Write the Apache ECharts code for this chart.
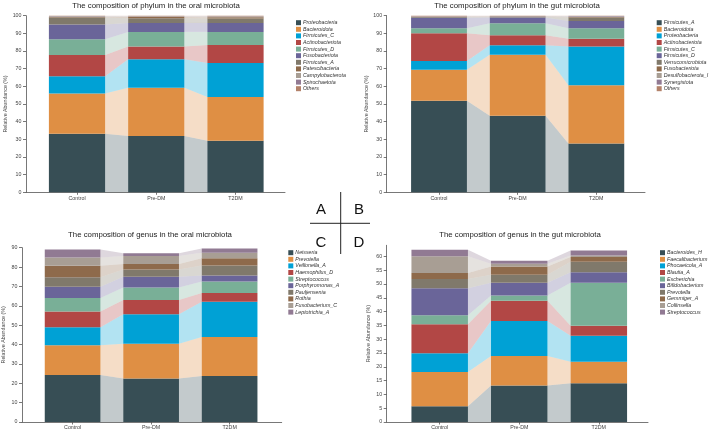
<!DOCTYPE html>
<html>
<head>
<meta charset="utf-8">
<script src="https://cdn.jsdelivr.net/npm/echarts@6/dist/echarts.min.js"></script>
<style>
html,body{margin:0;padding:0;background:#fff;}
#main{width:709px;height:432px;}
</style>
</head>
<body>
<div id="main"></div>
<script>
// groups (x categories)
var groups = ['Control', 'Pre-DM', 'T2DM'];
var palette = ['#374E55', '#DF8F44', '#00A1D5', '#B24745', '#79AF97', '#6A6599', '#80796B', '#8E6A4B', '#A89E94', '#917A93', '#B3826A'];

// A - phylum, oral
var oralPhylumNames = ['Proteobacteria', 'Bacteroidota', 'Firmicutes_C', 'Actinobacteriota', 'Firmicutes_D', 'Fusobacteriota', 'Firmicutes_A', 'Patescibacteria', 'Campylobacterota', 'Spirochaetota', 'Others'];
var oralPhylumControl = [33.2, 22.8, 9.7, 12.0, 8.9, 8.4, 4.0, 0.4, 0.3, 0.15, 0.15];
var oralPhylumPreDM   = [31.9, 27.3, 16.1, 7.2, 8.3, 5.1, 2.7, 0.6, 0.3, 0.2, 0.3];
var oralPhylumT2DM    = [29.2, 24.8, 19.2, 10.2, 7.4, 5.1, 2.5, 0.7, 0.4, 0.2, 0.3];

// B - phylum, gut
var gutPhylumNames = ['Firmicutes_A', 'Bacteroidota', 'Proteobacteria', 'Actinobacteriota', 'Firmicutes_C', 'Firmicutes_D', 'Verrucomicrobiota', 'Fusobacteriota', 'Desulfobacterota_I', 'Synergistota', 'Others'];
var gutPhylumControl = [51.9, 17.5, 4.9, 15.8, 2.8, 6.0, 0.3, 0.2, 0.2, 0.1, 0.3];
var gutPhylumPreDM   = [43.4, 34.5, 5.3, 5.7, 6.8, 3.3, 0.3, 0.2, 0.2, 0.1, 0.2];
var gutPhylumT2DM    = [27.7, 32.9, 21.9, 4.5, 5.9, 4.1, 2.0, 0.3, 0.3, 0.2, 0.2];

// C - genus, oral
var oralGenusNames = ['Neisseria', 'Prevotella', 'Veillonella_A', 'Haemophilus_D', 'Streptococcus', 'Porphyromonas_A', 'Pauljensenia', 'Rothia', 'Fusobacterium_C', 'Leptotrichia_A'];
var oralGenusControl = [24.3, 15.3, 9.3, 8.2, 6.9, 5.9, 4.8, 6.0, 4.3, 4.1];
var oralGenusPreDM   = [22.5, 17.9, 15.2, 7.4, 6.5, 5.5, 3.8, 2.8, 4.1, 1.4];
var oralGenusT2DM    = [23.8, 20.1, 18.2, 4.5, 6.0, 3.0, 5.2, 3.7, 2.9, 2.2];

// D - genus, gut
var gutGenusNames = ['Bacteroides_H', 'Faecalibacterium', 'Phocaeicola_A', 'Blautia_A', 'Escherichia', 'Bifidobacterium', 'Prevotella', 'Gemmiger_A', 'Collinsella', 'Streptococcus'];
var gutGenusControl = [5.7, 12.4, 6.8, 10.5, 3.3, 9.7, 3.4, 2.2, 6.0, 2.4];
var gutGenusPreDM   = [13.2, 10.7, 12.7, 7.3, 1.9, 4.6, 2.9, 3.0, 1.0, 1.1];
var gutGenusT2DM    = [14.0, 7.8, 9.4, 3.7, 15.5, 3.8, 3.8, 1.8, 0.5, 1.8];

var ticks100 = [0, 10, 20, 30, 40, 50, 60, 70, 80, 90, 100];
var ticks90 = [0, 10, 20, 30, 40, 50, 60, 70, 80, 90];
var ticks60 = [0, 5, 10, 15, 20, 25, 30, 35, 40, 45, 50, 55, 60];

var FONT = 'Liberation Sans, Arial, sans-serif';
var BAR_FRAC = 0.71;

var panels = [
	{id:'A', title:'The composition of phylum in the oral microbiota', names:oralPhylumNames,
	 vals:[oralPhylumControl, oralPhylumPreDM, oralPhylumT2DM], ymax:100, ticks:ticks100,
	 grid:{left:26, top:15.7, width:259, height:176.6}, xmin:-0.644, xmax:2.625,
	 titleX:156, titleY:1.5, legendX:296, legendY:20.2, nameGap:18},
	{id:'B', title:'The composition of phylum in the gut microbiota', names:gutPhylumNames,
	 vals:[gutPhylumControl, gutPhylumPreDM, gutPhylumT2DM], ymax:100, ticks:ticks100,
	 grid:{left:386.7, top:15.7, width:258.3, height:176.6}, xmin:-0.665, xmax:2.619,
	 titleX:517, titleY:1.5, legendX:656.7, legendY:20.2, nameGap:16},
	{id:'C', title:'The composition of genus in the oral microbiota', names:oralGenusNames,
	 vals:[oralGenusControl, oralGenusPreDM, oralGenusT2DM], ymax:90, ticks:ticks90,
	 grid:{left:20, top:247.7, width:261.7, height:174.3}, xmin:-0.645, xmax:2.664,
	 titleX:150, titleY:231, legendX:288.3, legendY:250.2, nameGap:16},
	{id:'D', title:'The composition of genus in the gut microbiota', names:gutGenusNames,
	 vals:[gutGenusControl, gutGenusPreDM, gutGenusT2DM], ymax:64, ticks:ticks60,
	 grid:{left:386.7, top:245.3, width:261.3, height:176.7}, xmin:-0.666, xmax:2.618,
	 titleX:520, titleY:231, legendX:660, legendY:250.2, nameGap:16}
];

/*
*堆积：每组累计上下界
*/
function buildStacks(vals){
	var st = [];
	for (var g = 0; g < vals.length; g++) {
		var acc = 0, row = [];
		for (var k = 0; k < vals[g].length; k++) {
			row.push([acc, acc + vals[g][k]]);
			acc += vals[g][k];
		}
		st.push(row);
	}
	return st;
}

function makeRender(stacks, k, color){
	return function(params, api){
		var i = params.dataIndex;
		var hw = api.size([BAR_FRAC, 0])[0] / 2;
		var top = api.coord([i, api.value(2)]);
		var bot = api.coord([i, api.value(1)]);
		var children = [{
			type:'rect',
			shape:{x:top[0] - hw, y:top[1], width:hw * 2, height:bot[1] - top[1]},
			style:{fill:color}
		}];
		if (i < stacks.length - 1) {
			var nTop = api.coord([i + 1, stacks[i + 1][k][1]]);
			var nBot = api.coord([i + 1, stacks[i + 1][k][0]]);
			children.push({
				type:'polygon',
				shape:{points:[[top[0] + hw, top[1]], [nTop[0] - hw, nTop[1]], [nBot[0] - hw, nBot[1]], [bot[0] + hw, bot[1]]]},
				style:{fill:color, opacity:0.3}
			});
		}
		return {type:'group', children:children};
	};
}

var option = {
	animation:false,
	backgroundColor:'#fff',
	title:[], legend:[], grid:[], xAxis:[], yAxis:[], series:[],
	graphic:[
		{type:'line', shape:{x1:310, y1:223.3, x2:370, y2:223.3}, style:{stroke:'#222', lineWidth:1}},
		{type:'line', shape:{x1:340.7, y1:192, x2:340.7, y2:254}, style:{stroke:'#222', lineWidth:1}},
		{type:'text', x:321, y:210, style:{text:'A', font:'15px ' + FONT, fill:'#111', align:'center', verticalAlign:'middle'}},
		{type:'text', x:359, y:210, style:{text:'B', font:'15px ' + FONT, fill:'#111', align:'center', verticalAlign:'middle'}},
		{type:'text', x:321, y:243, style:{text:'C', font:'15px ' + FONT, fill:'#111', align:'center', verticalAlign:'middle'}},
		{type:'text', x:359, y:243, style:{text:'D', font:'15px ' + FONT, fill:'#111', align:'center', verticalAlign:'middle'}}
	]
};

panels.forEach(function(p, pi){
	var stacks = buildStacks(p.vals);
	option.title.push({
		text:p.title, left:p.titleX, top:p.titleY, textAlign:'center', padding:0,
		textStyle:{fontSize:7.8, fontWeight:'normal', color:'#222', fontFamily:FONT}
	});
	option.grid.push({left:p.grid.left, top:p.grid.top, width:p.grid.width, height:p.grid.height});
	option.xAxis.push({
		type:'value', gridIndex:pi, min:p.xmin, max:p.xmax,
		splitLine:{show:false},
		axisLine:{onZero:false, lineStyle:{color:'#555', width:0.8}},
		axisTick:{customValues:[0, 1, 2], length:2.5, lineStyle:{color:'#555', width:0.8}},
		axisLabel:{customValues:[0, 1, 2], formatter:function(v){ return groups[Math.round(v)]; },
			fontSize:5.3, color:'#444', margin:3.5, fontFamily:FONT}
	});
	option.yAxis.push({
		type:'value', gridIndex:pi, min:0, max:p.ymax,
		name:'Relative Abundance (%)', nameLocation:'middle', nameGap:p.nameGap,
		nameTextStyle:{fontSize:5.3, color:'#444', fontFamily:FONT},
		splitLine:{show:false},
		axisLine:{show:true, onZero:false, lineStyle:{color:'#555', width:0.8}},
		axisTick:{show:true, customValues:p.ticks, length:3, lineStyle:{color:'#555', width:0.8}},
		axisLabel:{customValues:p.ticks, fontSize:5.3, color:'#444', margin:4.5, fontFamily:FONT}
	});
	var legendNames = [];
	p.names.forEach(function(nm, k){
		var sName = p.id + '|' + nm;
		legendNames.push(sName);
		var data = [];
		for (var g = 0; g < groups.length; g++) data.push([g, stacks[g][k][0], stacks[g][k][1]]);
		option.series.push({
			type:'custom', name:sName, xAxisIndex:pi, yAxisIndex:pi,
			itemStyle:{color:palette[k]},
			encode:{x:0, y:[1, 2]},
			renderItem:makeRender(stacks, k, palette[k]),
			data:data
		});
	});
	option.legend.push({
		data:legendNames, orient:'vertical', left:p.legendX, top:p.legendY,
		padding:0, itemWidth:5, itemHeight:5, itemGap:1.6, icon:'rect', selectedMode:false,
		formatter:function(name){ return name.split('|')[1]; },
		textStyle:{fontSize:5.3, lineHeight:5, fontStyle:'italic', color:'#333', fontFamily:FONT, padding:[0, 0, 0, -3]}
	});
});

var myChart = echarts.init(document.getElementById('main'));
myChart.setOption(option);
</script>
</body>
</html>
